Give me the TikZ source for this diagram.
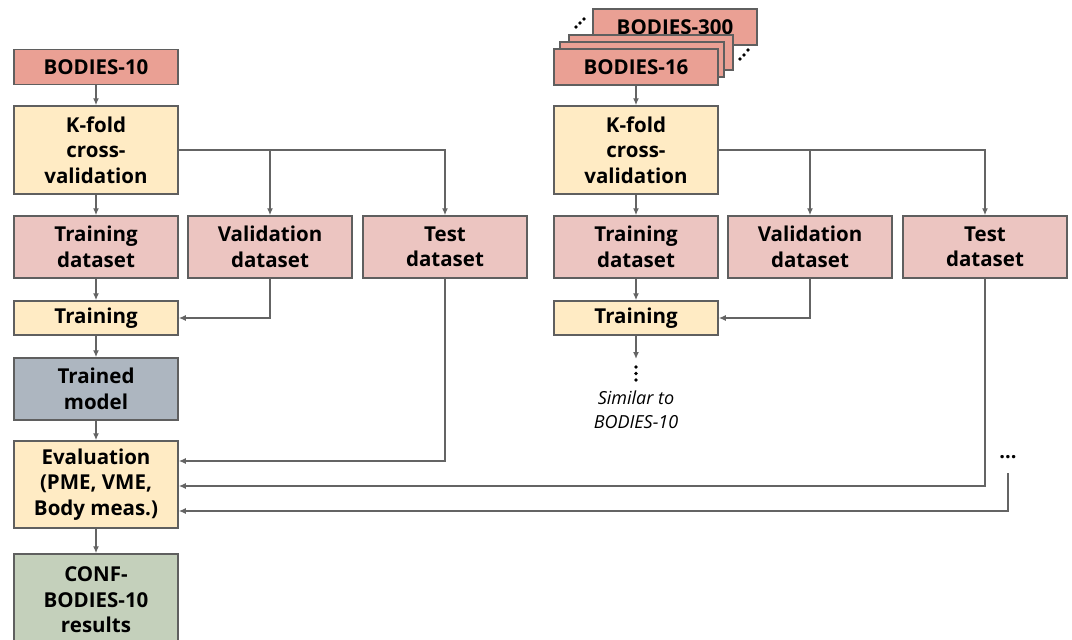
\documentclass[tikz,border=0pt]{standalone}
\usepackage{fontspec}
\setmainfont{Open Sans}
\usetikzlibrary{arrows.meta}
\definecolor{bodc}{RGB}{234,160,148}
\definecolor{dsc}{RGB}{236,197,193}
\definecolor{procc}{RGB}{255,235,196}
\definecolor{modc}{RGB}{173,182,192}
\definecolor{resc}{RGB}{196,208,187}
\definecolor{edgec}{RGB}{95,95,95}
\definecolor{linec}{RGB}{100,100,100}
\tikzset{
  box/.style={draw=edgec, line width=1.5pt, minimum width=164, align=center,
    inner sep=0pt, font=\bfseries\fontsize{20.5}{25.5}\selectfont},
  bod/.style={box, fill=bodc, minimum height=35},
  ds/.style={box, fill=dsc, minimum height=62},
  proc/.style={box, fill=procc},
  arr/.style={draw=linec, line width=1.5pt, -{Latex[length=7pt,width=6pt]}},
  dot/.style={fill=black, draw=none}
}
\begin{document}
\begin{tikzpicture}[x=1pt,y=-1pt]
\useasboundingbox (0,0) rectangle (1072,640);
\fill[white] (0,0) rectangle (1072,640);

% left column
\node[bod] (b10) at (96,67) {BODIES-10};
\node[proc, minimum height=88] (k1) at (96,150) {K-fold\\cross-\\validation};
\node[ds] (td1) at (96,247) {Training\\dataset};
\node[ds] (vd1) at (270,247) {Validation\\dataset};
\node[ds] (te1) at (445,247) {Test\\dataset};
\node[proc, minimum height=34] (tr1) at (96,318) {Training};
\node[box, fill=modc, minimum height=62] (tm1) at (96,389) {Trained\\model};
\node[proc, minimum height=87] (ev1) at (96,484.5) {Evaluation\\(PME, VME,\\Body meas.)};
\node[box, fill=resc, minimum height=92] (cf1) at (96,600) {CONF-\\BODIES-10\\results};

% right column stack
\node[bod, minimum height=36] (s3) at (675,27) {BODIES-300};
\node[bod] (s2) at (651,52.5) {};
\node[bod] (s1) at (642,59.5) {};
\node[bod, minimum height=36] (b16) at (636,67) {BODIES-16};
\foreach \p in {(576,27),(580,23),(584,19),(740,59),(744,55),(748,50)}
  \fill[dot] \p circle (1.8);

\node[proc, minimum height=88] (k2) at (636,150) {K-fold\\cross-\\validation};
\node[ds] (td2) at (636,247) {Training\\dataset};
\node[ds] (vd2) at (810,247) {Validation\\dataset};
\node[ds] (te2) at (985,247) {Test\\dataset};
\node[proc, minimum height=34] (tr2) at (636,318) {Training};
\coordinate (c1) at (636,359);
\foreach \yy in {367,373.5,380}
  \fill[dot] (636,\yy) circle (1.8);
\node[font=\itshape\fontsize{18}{24}\selectfont, align=center] (sim) at (636,410) {Similar to\\BODIES-10};

\node[font=\bfseries\fontsize{20}{25}\selectfont, inner sep=0pt] (dd) at (1008,457) {...};
\coordinate (c2) at (1008,473);

% left arrows
\draw[arr] (b10) -- (k1);
\draw[arr] (k1) -- (td1);
\draw[arr] (k1.east) -| (te1.north);
\draw[arr] (k1.east -| vd1.north) -- (vd1.north);
\draw[arr] (vd1.south) |- (tr1.east);
\draw[arr] (td1) -- (tr1);
\draw[arr] (tr1) -- (tm1);
\draw[arr] (tm1) -- (ev1);
\draw[arr] (ev1) -- (cf1);
\draw[arr] (te1.south) |- ([yshift=23.5pt]ev1.east);

% right arrows
\draw[arr] (b16) -- (k2);
\draw[arr] (k2) -- (td2);
\draw[arr] (k2.east) -| (te2.north);
\draw[arr] (k2.east -| vd2.north) -- (vd2.north);
\draw[arr] (vd2.south) |- (tr2.east);
\draw[arr] (td2) -- (tr2);
\draw[arr] (tr2) -- (c1);
\draw[arr] (te2.south) |- ([yshift=-1.5pt]ev1.east);
\draw[arr] (c2) |- ([yshift=-26.5pt]ev1.east);
\end{tikzpicture}
\end{document}
